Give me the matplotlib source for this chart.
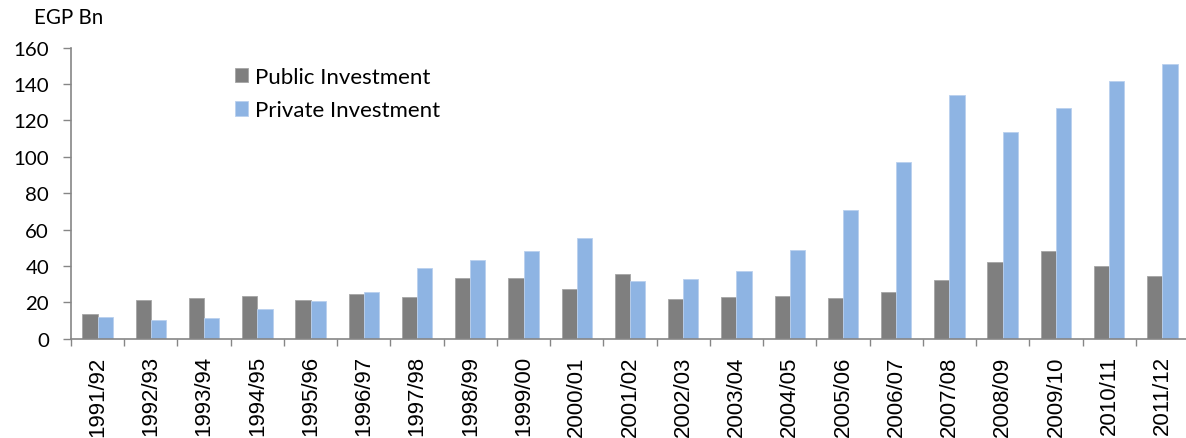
import matplotlib
matplotlib.use("Agg")
import matplotlib.pyplot as plt
import numpy as np

years = ["1991/92", "1992/93", "1993/94", "1994/95", "1995/96", "1996/97", "1997/98",
         "1998/99", "1999/00", "2000/01", "2001/02", "2002/03", "2003/04", "2004/05",
         "2005/06", "2006/07", "2007/08", "2008/09", "2009/10", "2010/11", "2011/12"]
public = [13.6, 21.1, 22.2, 23.3, 21.3, 24.4, 22.9, 33.5, 33.5, 27.5, 35.6,
          21.8, 22.8, 23.3, 22.4, 25.5, 32.1, 42.2, 48.2, 39.8, 34.3]
private = [11.8, 10.5, 11.2, 16.2, 20.7, 25.7, 38.9, 43.3, 48.0, 55.4, 31.7,
           32.8, 37.0, 48.9, 70.8, 97.1, 134.0, 113.5, 126.7, 141.7, 151.0]
yticks = [0, 20, 40, 60, 80, 100, 120, 140, 160]

W, H = 1186, 439
fig = plt.figure(figsize=(W / 100, H / 100), dpi=100)
left, right, bottom, top = 71, 1189, 439 - 339.7, 439 - 48.7
ax = fig.add_axes([left / W, bottom / H, (right - left) / W, (top - bottom) / H])

x = np.arange(len(years))
bw = 1 / 3.5
ax.bar(x - bw / 2, public, bw, color="#7F7F7F", edgecolor="#A6A6A6", linewidth=0.6,
       label="Public Investment")
ax.bar(x + bw / 2, private, bw, color="#8EB4E3", edgecolor="#B9D0EE", linewidth=0.6,
       label="Private Investment")

ax.set_xlim(-0.5, len(years) - 0.5)
ax.set_ylim(0, 160)
axcol = "#868686"
for s in ["top", "right"]:
    ax.spines[s].set_visible(False)
for s in ["left", "bottom"]:
    ax.spines[s].set_color(axcol)
    ax.spines[s].set_linewidth(1.2)

ax.set_yticks(yticks)
ax.set_yticklabels([str(v) for v in yticks], fontfamily="Lato", fontsize=14.7)
ax.tick_params(axis="y", direction="out", length=5.8, width=1.0, color=axcol, pad=10)

ax.set_xticks(x)
ax.set_xticklabels(years, rotation=90, fontfamily="Liberation Sans", fontsize=16,
                   va="top", ha="center")
ax.set_xticks(np.arange(len(years) + 1) - 0.5, minor=True)
ax.tick_params(axis="x", which="major", length=0, pad=12)
ax.tick_params(axis="x", which="minor", direction="out", length=5, width=1.0, color=axcol)

fig.text(33.7 / W, 1 - 17.5 / H, "EGP Bn", fontfamily="Lato", fontsize=14.8,
         ha="left", va="center")

ax_h = top - bottom
leg = ax.legend(loc="upper left",
                bbox_to_anchor=((235 - left) / (right - left), (H - 68 - bottom) / ax_h),
                frameon=False, prop={"family": "Lato", "size": 16},
                handlelength=0.6, handleheight=0.6, handletextpad=0.3, labelspacing=0.6,
                borderaxespad=0, borderpad=0)

fig.savefig("out.png", dpi=100)
